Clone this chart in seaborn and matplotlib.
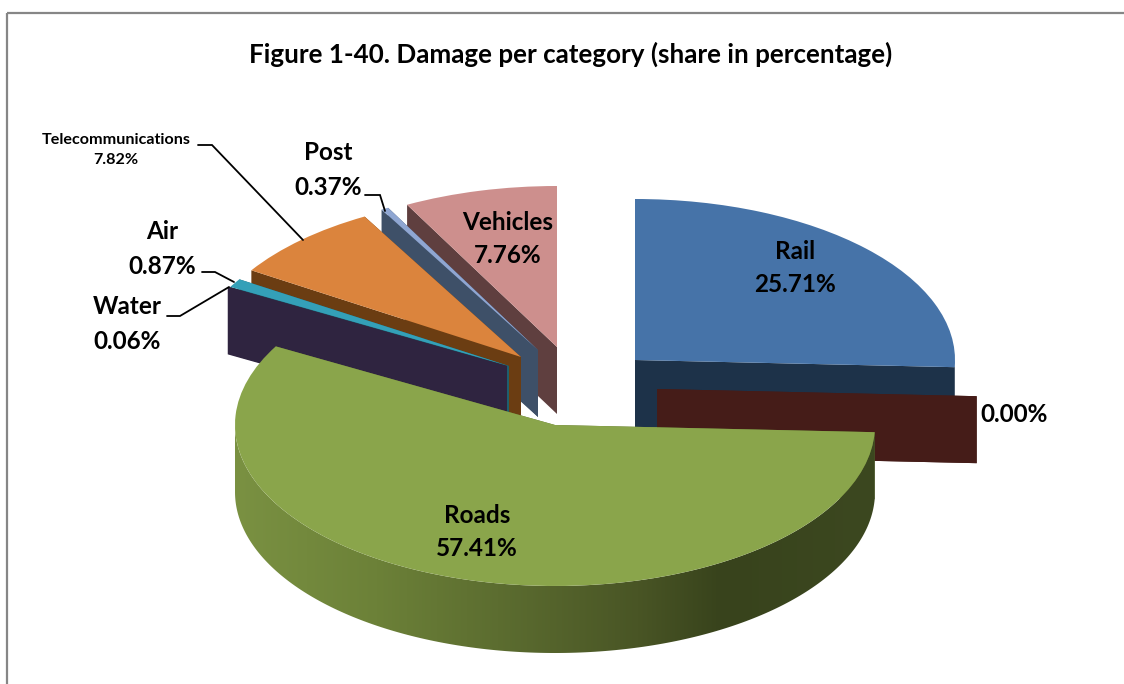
import numpy as np
import matplotlib
matplotlib.use("Agg")
import matplotlib.pyplot as plt
import seaborn as sns
from matplotlib.colors import LinearSegmentedColormap
from matplotlib.patches import Polygon, Rectangle
from matplotlib.transforms import Affine2D

# values
categories = ["Rail", "", "Roads", "Water", "Air", "Telecommunications", "Post", "Vehicles"]
shares = [25.71, 0.00, 57.41, 0.06, 0.87, 7.82, 0.37, 7.76]

title = "Figure 1-40. Damage per category (share in percentage)"

# styles, same order as the categories
top_colors = ["#4673A8", "#451C18", "#8AA54B", "#2F2440", "#34A0B8", "#DB843D", "#8FA6D2", "#CD8F8D"]
wall_colors = ["#1D3249", "#451C18", "#5F7032", "#2F2440", "#1E5F6E", "#6B3D12", "#3E5068", "#5F3F3F"]

# where the tip of each exploded slice sits, in pixels
apexes = [(635, 360), (657, 389), (555, 425), (507, 366), (509, 366), (521, 357), (538, 350), (557, 347)]
draw_order = [7, 6, 5, 4, 3, 0, 1, 2]

# label centre, font size, line spacing
label_spots = [(795, 268, 17.5, 1.55), (1014, 415, 17.5, 1.5), (477, 532, 17.5, 1.55), (127, 324, 17.5, 1.6),
               (162, 249, 17.5, 1.65), (116, 150, 11.6, 1.6), (328, 170, 17.5, 1.65), (508, 239, 17.5, 1.5)]
leaders = [
    [(198, 145), (212, 145), (303, 240)],
    [(365, 195), (380, 195), (385, 211)],
    [(202, 272), (215, 272), (234, 282)],
    [(167, 316), (180, 316), (229, 287)],
]

RX, RY, DEPTH = 320, 161, 67


def rim(theta, apex):
    t = np.radians(theta)
    return apex[0] + RX * np.cos(t), apex[1] - RY * np.sin(t)


def outer_wall(theta1, theta2, apex):
    # only the front half of the rim shows
    lo, hi = max(theta1, -180), min(theta2, 0)
    if hi <= lo:
        return None
    ts = np.linspace(lo, hi, 200)
    x, y = rim(ts, apex)
    return np.vstack([np.column_stack([x, y]), np.column_stack([x[::-1], y[::-1] + DEPTH])])


sns.set_theme(style="white")
plt.rcParams["font.family"] = ["Lato", "DejaVu Sans"]

fig = plt.figure(figsize=(11.24, 6.84), dpi=100, facecolor="white")
ax = fig.add_axes([0, 0, 1, 1])

# the library works out the slice angles
wedges, _ = ax.pie(shares, startangle=90, counterclock=False, colors=sns.color_palette(top_colors))

gradient = LinearSegmentedColormap.from_list(
    "roads_wall",
    [(0.0, "#7A9142"), (0.22, "#6C8138"), (0.41, "#5C6D30"), (0.63, "#495525"), (0.76, "#38431C"), (1.0, "#3C4820")],
)

z = 2
for i in draw_order:
    wedge = wedges[i]
    apex = apexes[i]
    for theta in (wedge.theta1, wedge.theta2):
        x, y = rim(theta, apex)
        face = [apex, (x, y), (x, y + DEPTH), (apex[0], apex[1] + DEPTH)]
        ax.add_patch(Polygon(face, closed=True, facecolor=wall_colors[i], edgecolor="none", zorder=z))
    wall = outer_wall(wedge.theta1, wedge.theta2, apex)
    if wall is not None:
        if categories[i] == "Roads":
            clip = Polygon(wall, closed=True, facecolor="none", edgecolor="none", zorder=z + 1)
            ax.add_patch(clip)
            im = ax.imshow(np.linspace(0, 1, 256)[None, :], cmap=gradient, aspect="auto", zorder=z + 1,
                           extent=(wall[:, 0].min(), wall[:, 0].max(), wall[:, 1].max(), wall[:, 1].min()))
            im.set_clip_path(clip)
        else:
            ax.add_patch(Polygon(wall, closed=True, facecolor=wall_colors[i], edgecolor="none", zorder=z + 1))
    wedge.set_transform(Affine2D().scale(RX, RY).scale(1, -1).translate(*apex) + ax.transData)
    wedge.set_zorder(z + 2)
    wedge.set_edgecolor("none")
    if shares[i] == 0:
        wedge.set_visible(False)
    z += 3

ax.set_aspect("auto")
ax.set_xlim(0, 1124)
ax.set_ylim(684, 0)
ax.set_axis_off()

# chart frame, runs off the right and bottom of the crop
ax.add_patch(Rectangle((7, 13), 1200, 800, fill=False, edgecolor="#868686", linewidth=1.6, zorder=1))

ax.text(571, 54, title, ha="center", va="center", fontsize=18.7, fontweight="bold", color="black", zorder=60)

for name, share, (x, y, size, spacing) in zip(categories, shares, label_spots):
    label = f"{name}\n{share:.2f}%" if name else f"{share:.2f}%"
    ax.text(x, y, label, ha="center", va="center", fontsize=size, fontweight="bold",
            color="black", linespacing=spacing, zorder=60)

for path in leaders:
    xs, ys = zip(*path)
    ax.plot(xs, ys, color="black", linewidth=1.3, zorder=55, solid_joinstyle="miter")

fig.savefig("out.png", dpi=100, facecolor="white")
